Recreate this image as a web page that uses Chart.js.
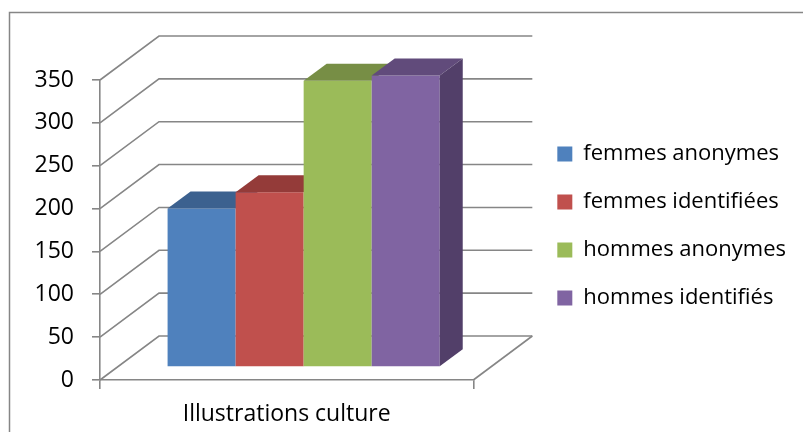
<!DOCTYPE html>
<html>
<head>
<meta charset="utf-8">
<script src="https://cdn.jsdelivr.net/npm/chart.js@4/dist/chart.umd.min.js"></script>
<style>
  html, body { margin: 0; padding: 0; background: #fff; }
  #wrap { width: 803px; height: 432px; }
</style>
</head>
<body>
<div id="wrap"><canvas id="chart" width="803" height="432"></canvas></div>
<script>
// data
const categories = ['Illustrations culture'];
const seriesNames = ['femmes anonymes', 'femmes identifiées', 'hommes anonymes', 'hommes identifiés'];
const femmesAnonymes = [185];
const femmesIdentifiees = [204];
const hommesAnonymes = [334];
const hommesIdentifies = [340];
const yTicks = [0, 50, 100, 150, 200, 250, 300, 350];

const frontColors = ['#4F81BD', '#C0504D', '#9BBB59', '#8064A2'];
const topColors = ['#3C618F', '#943B39', '#778E45', '#614B7B'];
const sideColors = ['#335079', '#7C3230', '#637639', '#523F69'];
const gridColor = '#868686';

// 3d offsets
const WALL_DX = 59, WALL_DY = -44;   // back wall
const BAR_DX = 17, BAR_DY = -13;     // bars stand a bit back from the front
const DEPTH_DX = 23, DEPTH_DY = -17; // bar depth

const fakeDepth = {
  id: 'fakeDepth',
  afterLayout(chart) {
    // excel puts the legend a little higher than centred
    chart.legend.top -= 4;
    chart.legend.bottom -= 4;
  },
  beforeDraw(chart) {
    const ctx = chart.ctx;
    ctx.save();
    ctx.strokeStyle = gridColor;
    ctx.lineWidth = 1.5;
    ctx.strokeRect(9.5, 12.5, 900, 500);
    ctx.restore();
  },
  beforeDatasetsDraw(chart) {
    const {ctx, scales: {x, y}} = chart;
    const L = x.left, R = x.right, B = y.getPixelForValue(0);
    ctx.save();
    ctx.strokeStyle = gridColor;
    ctx.lineWidth = 1.6;
    // back wall gridlines + the diagonals on the side wall
    y.ticks.forEach(t => {
      const py = y.getPixelForValue(t.value);
      ctx.beginPath();
      ctx.moveTo(L, py);
      ctx.lineTo(L + WALL_DX, py + WALL_DY);
      ctx.lineTo(R + WALL_DX, py + WALL_DY);
      ctx.stroke();
    });
    // right edge of the floor
    ctx.beginPath();
    ctx.moveTo(R, B);
    ctx.lineTo(R + WALL_DX, B + WALL_DY);
    ctx.stroke();
    ctx.restore();

    // bars: front face by Chart.js, then top and side
    ctx.save();
    ctx.translate(BAR_DX, BAR_DY);
    const metas = chart.getSortedVisibleDatasetMetas();
    metas.forEach((m, i) => {
      const bar = m.data[0];
      bar.draw(ctx);
      const p = bar.getProps(['x', 'y', 'width', 'base'], true);
      const l = p.x - p.width / 2, r = p.x + p.width / 2;
      ctx.fillStyle = topColors[i];
      ctx.beginPath();
      ctx.moveTo(l, p.y);
      ctx.lineTo(r, p.y);
      ctx.lineTo(r + DEPTH_DX, p.y + DEPTH_DY);
      ctx.lineTo(l + DEPTH_DX, p.y + DEPTH_DY);
      ctx.closePath();
      ctx.fill();
      if (i === metas.length - 1) {
        ctx.fillStyle = sideColors[i];
        ctx.beginPath();
        ctx.moveTo(r, p.y);
        ctx.lineTo(r + DEPTH_DX, p.y + DEPTH_DY);
        ctx.lineTo(r + DEPTH_DX, p.base + DEPTH_DY);
        ctx.lineTo(r, p.base);
        ctx.closePath();
        ctx.fill();
      }
    });
    ctx.restore();
    return false;
  }
};

const font = { family: 'Open Sans', size: 23 };

new Chart(document.getElementById('chart'), {
  type: 'bar',
  data: {
    labels: categories,
    datasets: [
      { label: seriesNames[0], data: femmesAnonymes, backgroundColor: frontColors[0] },
      { label: seriesNames[1], data: femmesIdentifiees, backgroundColor: frontColors[1] },
      { label: seriesNames[2], data: hommesAnonymes, backgroundColor: frontColors[2] },
      { label: seriesNames[3], data: hommesIdentifies, backgroundColor: frontColors[3] }
    ]
  },
  options: {
    responsive: false,
    animation: false,
    categoryPercentage: 0.729,
    barPercentage: 1,
    layout: { padding: { top: 80, left: 0, right: 7, bottom: 0 } },
    plugins: {
      tooltip: { enabled: false },
      legend: {
        position: 'right',
        fullSize: false,
        maxWidth: 320,
        labels: {
          boxWidth: 15,
          boxHeight: 15,
          padding: 26,
          color: '#000',
          font: { family: 'Open Sans', size: 22 }
        }
      }
    },
    scales: {
      x: {
        grid: { display: true, drawOnChartArea: false, drawTicks: true, tickLength: 9, color: gridColor, lineWidth: 1.6 },
        border: { display: true, color: gridColor, width: 1.6 },
        ticks: { color: '#000', font: font, padding: 12 },
        afterFit(s) { s.height = 52; }
      },
      y: {
        min: 0,
        max: 350,
        afterBuildTicks(s) { s.ticks = yTicks.map(v => ({ value: v })); },
        grid: { display: true, drawOnChartArea: false, drawTicks: true, tickLength: 8, color: gridColor, lineWidth: 1.6 },
        border: { display: true, color: gridColor, width: 1.6 },
        ticks: { color: '#000', font: font, padding: 18 },
        afterFit(s) { s.width = 100; }
      },
      gap: {
        position: 'right',
        display: true,
        grid: { display: false },
        border: { display: false },
        ticks: { display: false },
        afterFit(s) { s.width = 58; }
      }
    }
  },
  plugins: [fakeDepth]
});
</script>
</body>
</html>
